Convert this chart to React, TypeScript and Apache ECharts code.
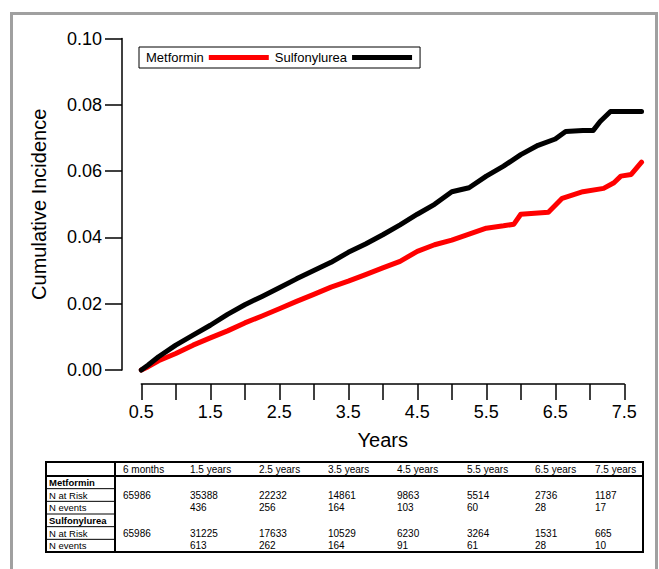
import React, { useEffect, useRef } from "react";
import * as echarts from "echarts";

const metforminYears = [0.5, 0.6, 0.75, 1.0, 1.25, 1.5, 1.75, 2.0, 2.25, 2.5, 2.75, 3.0, 3.25, 3.5, 3.75, 4.0, 4.25, 4.5, 4.75, 5.0, 5.25, 5.5, 5.75, 5.9, 6.0, 6.4, 6.6, 6.9, 7.2, 7.35, 7.45, 7.6, 7.75];
const metforminValues = [0, 0.001, 0.0028, 0.005, 0.0075, 0.0097, 0.0118, 0.0142, 0.0163, 0.0185, 0.0207, 0.0228, 0.025, 0.0268, 0.0288, 0.0308, 0.0328, 0.0358, 0.0378, 0.0392, 0.041, 0.0428, 0.0435, 0.044, 0.047, 0.0476, 0.0518, 0.0538, 0.0548, 0.0565, 0.0585, 0.059, 0.0627];

const sulfonylureaYears = [0.5, 0.6, 0.75, 1.0, 1.25, 1.5, 1.75, 2.0, 2.25, 2.5, 2.75, 3.0, 3.25, 3.5, 3.75, 4.0, 4.25, 4.5, 4.75, 5.0, 5.25, 5.5, 5.75, 6.0, 6.25, 6.5, 6.65, 6.9, 7.05, 7.15, 7.3, 7.75];
const sulfonylureaValues = [0, 0.0015, 0.004, 0.0075, 0.0105, 0.0135, 0.0168, 0.0197, 0.0222, 0.0248, 0.0275, 0.03, 0.0325, 0.0355, 0.038, 0.0408, 0.0438, 0.047, 0.05, 0.0538, 0.055, 0.0585, 0.0615, 0.065, 0.0678, 0.0697, 0.072, 0.0723, 0.0723, 0.075, 0.078, 0.078];

const tableTimeLabels = ["6 months", "1.5 years", "2.5 years", "3.5 years", "4.5 years", "5.5 years", "6.5 years", "7.5 years"];
const metforminAtRisk = ["65986", "35388", "22232", "14861", "9863", "5514", "2736", "1187"];
const metforminEvents = ["", "436", "256", "164", "103", "60", "28", "17"];
const sulfonylureaAtRisk = ["65986", "31225", "17633", "10529", "6230", "3264", "1531", "665"];
const sulfonylureaEvents = ["", "613", "262", "164", "91", "61", "28", "10"];

const FONT = "'Liberation Sans', Arial, sans-serif";

export default function App() {
  const ref = useRef<HTMLDivElement>(null);
  useEffect(() => {
    if (!ref.current) return;
    const chart = echarts.init(ref.current, undefined, { renderer: "svg" });

    const colX = [123, 190, 259, 328, 397, 467, 535, 595];
    const tTop = 462, tLeft = 46, tRight = 643, tBottom = 552, labelColRight = 115;
    const headerBottom = 476;
    const rowH = (tBottom - headerBottom) / 6;
    const rowY = (i: number) => headerBottom + rowH * i + rowH / 2;

    const g: any[] = [];
    g.push({ type: "rect", shape: { x: 11.5, y: 13.5, width: 645, height: 640 }, style: { fill: "none", stroke: "#a0a0a0", lineWidth: 3 }, silent: true });
    g.push({ type: "rect", shape: { x: tLeft, y: tTop, width: tRight - tLeft, height: tBottom - tTop }, style: { fill: "none", stroke: "#000", lineWidth: 2 } });
    g.push({ type: "line", shape: { x1: labelColRight, y1: tTop, x2: labelColRight, y2: tBottom }, style: { stroke: "#000", lineWidth: 2 } });
    g.push({ type: "line", shape: { x1: tLeft, y1: headerBottom, x2: tRight, y2: headerBottom }, style: { stroke: "#000", lineWidth: 2 } });
    for (let i = 1; i < 6; i++) {
      const y = headerBottom + rowH * i;
      g.push({ type: "line", shape: { x1: tLeft, y1: y, x2: labelColRight, y2: y }, style: { stroke: "#000", lineWidth: 1 } });
    }
    const txt = (text: string, x: number, y: number, bold = false, size = 10) => ({
      type: "text",
      x, y,
      style: { text, fontSize: size, fontFamily: FONT, fontWeight: bold ? "bold" : "normal", fill: "#000", verticalAlign: "middle", align: "left" },
    });
    tableTimeLabels.forEach((t, i) => g.push(txt(t, colX[i], (tTop + headerBottom) / 2)));
    const rowLabels: [string, boolean][] = [["Metformin", true], ["N at Risk", false], ["N events", false], ["Sulfonylurea", true], ["N at Risk", false], ["N events", false]];
    rowLabels.forEach(([t, b], i) => g.push(txt(t, tLeft + 3, rowY(i), b, 9.5)));
    const rows = [null, metforminAtRisk, metforminEvents, null, sulfonylureaAtRisk, sulfonylureaEvents];
    rows.forEach((r, i) => {
      if (!r) return;
      r.forEach((v, j) => { if (v) g.push(txt(v, colX[j], rowY(i))); });
    });

    const gLeft = 141.3;
    const pxPerYear = 69;
    const option: any = {
      animation: false,
      textStyle: { fontFamily: FONT },
      legend: {
        left: 139, top: 47,
        data: ["Metformin", "Sulfonylurea"],
        align: "right",
        icon: "rect",
        itemWidth: 60, itemHeight: 5, itemGap: 6,
        padding: [4, 8, 4, 7],
        borderColor: "#000", borderWidth: 1,
        textStyle: { fontSize: 13, color: "#000", fontFamily: FONT },
      },
      grid: [
        { left: gLeft, top: 38.6, width: pxPerYear * 7.25, height: 331.4 },
        { left: gLeft, top: 300, width: pxPerYear * 7, height: 84 },
      ],
      xAxis: [
        { gridIndex: 0, type: "value", min: 0.5, max: 7.75, show: false },
        {
          gridIndex: 1, type: "value", min: 0.5, max: 7.5, interval: 0.5, position: "bottom",
          axisLine: { show: true, lineStyle: { color: "#000", width: 1.5 } },
          axisTick: { show: true, length: 16, inside: false, lineStyle: { color: "#000", width: 1.5 } },
          splitLine: { show: false },
          axisLabel: {
            fontSize: 18, color: "#000", margin: 19, fontFamily: FONT,
            formatter: (v: number) => (Math.abs((v - 0.5) % 1) < 1e-6 ? v.toFixed(1) : ""),
          },
          name: "Years", nameLocation: "middle", nameGap: 46,
          nameTextStyle: { fontSize: 20, color: "#000", fontFamily: FONT },
        },
      ],
      yAxis: [
        {
          gridIndex: 0, type: "value", min: 0, max: 0.1, interval: 0.02, offset: 19.3,
          axisLine: { show: true, lineStyle: { color: "#000", width: 1.5 } },
          axisTick: { show: true, length: 17, inside: false, lineStyle: { color: "#000", width: 1.5 } },
          splitLine: { show: false },
          axisLabel: { fontSize: 18, color: "#000", margin: 20, fontFamily: FONT, formatter: (v: number) => v.toFixed(2) },
          name: "Cumulative Incidence", nameLocation: "middle", nameGap: 73, nameRotate: 90,
          nameTextStyle: { fontSize: 20, color: "#000", fontFamily: FONT },
        },
        { gridIndex: 1, type: "value", show: false },
      ],
      series: [
        {
          name: "Metformin", type: "line", xAxisIndex: 0, yAxisIndex: 0,
          data: metforminYears.map((x, i) => [x, metforminValues[i]]),
          showSymbol: false, symbol: "none", clip: false,
          lineStyle: { color: "#ff0000", width: 5, join: "round", cap: "round" },
          itemStyle: { color: "#ff0000" },
        },
        {
          name: "Sulfonylurea", type: "line", xAxisIndex: 0, yAxisIndex: 0,
          data: sulfonylureaYears.map((x, i) => [x, sulfonylureaValues[i]]),
          showSymbol: false, symbol: "none", clip: false,
          lineStyle: { color: "#000000", width: 5, join: "round", cap: "round" },
          itemStyle: { color: "#000000" },
        },
      ],
      graphic: g,
    };
    chart.setOption(option);
    return () => chart.dispose();
  }, []);
  return <div ref={ref} style={{ position: "fixed", left: 0, top: 0, width: 659, height: 569, background: "#fff" }} />;
}
